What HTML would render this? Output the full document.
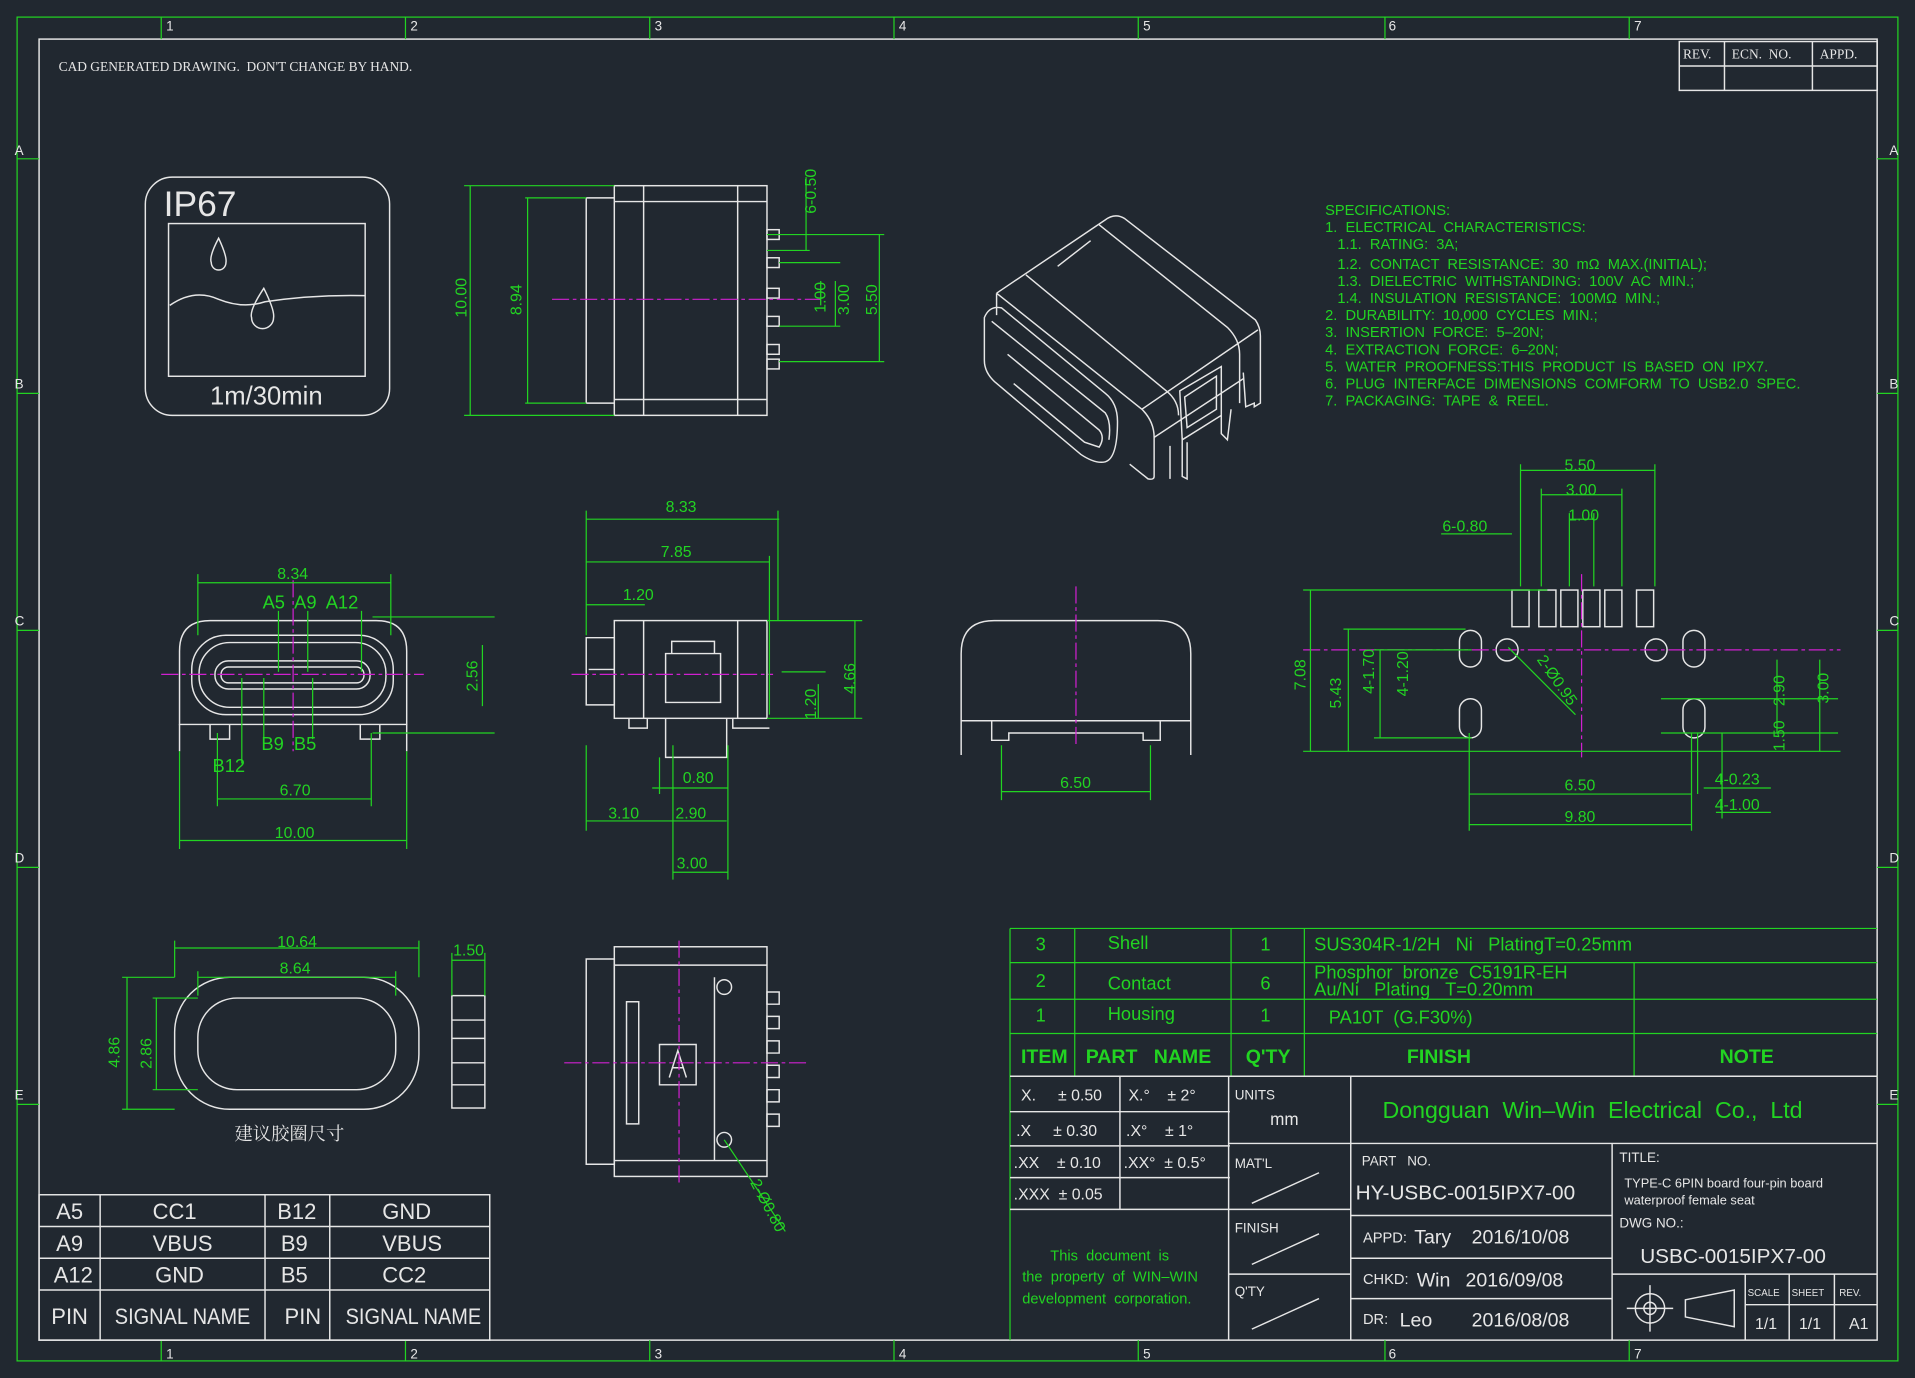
<!DOCTYPE html>
<html><head><meta charset="utf-8"><style>
html,body{margin:0;padding:0;background:#212830;}
svg{display:block}
text{font-family:"Liberation Sans","Noto Sans CJK SC",sans-serif;white-space:pre}
.w{stroke:#e6e6e6;fill:none;stroke-width:1.2}
.g{stroke:#22d422;fill:none;stroke-width:1}
.m{stroke:#d020d0;fill:none;stroke-width:1;stroke-dasharray:14 3 3 3}
.gt{fill:#22d422}
.wt{fill:#e6e6e6}
.st{fill:#22d422}
.ser{font-family:"Liberation Serif","Noto Serif CJK SC",serif}
</style></head><body>
<svg width="1915" height="1378" viewBox="0 0 1568 1128" preserveAspectRatio="none" xmlns="http://www.w3.org/2000/svg" font-size="13" xml:space="preserve">
<rect width="1568" height="1128" fill="#212830"/>
<rect x="14" y="14" width="1540" height="1100" class="g"/>
<rect x="32" y="32" width="1505" height="1065" class="w"/>
<g class="g">
<path d="M132 14v18M332 14v18M532 14v18M732 14v18M932 14v18M1134 14v18M1334 14v18M132 1097v17M332 1097v17M532 1097v17M732 1097v17M932 1097v17M1134 1097v17M1334 1097v17"/>
<path d="M14 130h18M14 322h18M14 516h18M14 710h18M14 904h18M1537 130h17M1537 322h17M1537 516h17M1537 710h17M1537 904h17"/>
</g>
<g class="wt" font-size="11">
<text x="136" y="25">1</text><text x="336" y="25">2</text><text x="536" y="25">3</text><text x="736" y="25">4</text><text x="936" y="25">5</text><text x="1137" y="25">6</text><text x="1338" y="25">7</text>
<text x="136" y="1112">1</text><text x="336" y="1112">2</text><text x="536" y="1112">3</text><text x="736" y="1112">4</text><text x="936" y="1112">5</text><text x="1137" y="1112">6</text><text x="1338" y="1112">7</text>
<text x="12" y="127">A</text><text x="12" y="318">B</text><text x="12" y="512">C</text><text x="12" y="706">D</text><text x="12" y="900">E</text>
<text x="1547" y="127">A</text><text x="1547" y="318">B</text><text x="1547" y="512">C</text><text x="1547" y="706">D</text><text x="1547" y="900">E</text>
</g>
<text x="48" y="58" class="wt ser" font-size="11">CAD GENERATED DRAWING.  DON'T CHANGE BY HAND.</text>
<rect x="1375" y="34" width="162" height="40" class="w"/>
<path class="w" d="M1375 54h162M1412 34v40M1484 34v40"/>
<text x="1378" y="48" class="wt ser" font-size="11">REV.</text><text x="1418" y="48" class="wt ser" font-size="11">ECN.  NO.</text><text x="1490" y="48" class="wt ser" font-size="11">APPD.</text>

<rect x="119" y="145" width="200" height="195" rx="22" class="w" stroke-width="1.5"/>
<rect x="138" y="183" width="161" height="125" class="w"/>
<text x="134" y="177" class="wt" font-size="29">IP67</text>
<text x="172" y="331" class="wt" font-size="21">1m/30min</text>
<path class="w" d="M179 195 q-8 15 -6 20 a6 6 0 0 0 12 0 q1 -5 -6 -20z"/>
<path class="w" d="M139 250 q20 -14 40 -5 q20 8 38 2 q40 -6 82 -5"/>
<path class="w" d="M216 236 q-12 18 -10 24 a9 9 0 0 0 18 0 q1 -6 -8 -24z"/>

<g class="w">
<rect x="503" y="152" width="125" height="188"/>
<path d="M527 152v188M604 152v188M480 162h23M480 330h23M480 162v168M503 165h125M503 327h125"/>
<rect x="628" y="188" width="10" height="8"/><rect x="628" y="211" width="10" height="8"/><rect x="628" y="236" width="10" height="8"/><rect x="628" y="259" width="10" height="8"/><rect x="628" y="282" width="10" height="8"/><rect x="628" y="294" width="10" height="8"/>
</g>
<path class="m" d="M452 245h220"/>
<g class="g">
<path d="M380 152h123M380 340h123M385 152v188M430 162h50M430 330h50M432 162v168M628 192h35M628 205h35M660 145v60M638 215h50M638 267h50M684 230v37M672 230v20M638 296h86M720 192v104M638 192h86"/>
</g>
<g class="gt">
<text transform="translate(382,260) rotate(-90)">10.00</text>
<text transform="translate(427,258) rotate(-90)">8.94</text>
<text transform="translate(668,175) rotate(-90)">6-0.50</text>
<text transform="translate(676,256) rotate(-90)">1.00</text>
<text transform="translate(695,258) rotate(-90)">3.00</text>
<text transform="translate(718,258) rotate(-90)">5.50</text>
</g>

<g class="w" stroke-width="1.1">
<path d="M816 240 L905 180 Q913 174 921 179 L1028 262 Q1032 268 1032 275 V330 L1027 333 V330 L1020 333 L1018 305"/>
<path d="M816 240 V258 M816 240 L935 335 Q945 345 945 358 V390 Q945 393 940 392 L925 380"/>
<path d="M840 225 L955 320 Q965 328 965 340 M900 184 L1005 268 Q1015 278 1015 290 V330"/>
<path d="M935 335 L1030 270 M945 358 L1018 310 M866 218 L893 197"/>
<path d="M806 260 Q810 250 820 252 L905 322 Q915 330 915 345 Q915 375 905 378 Q897 380 885 372 L815 313 Q806 305 806 295 Z"/>
<path d="M812 263 L905 338 Q910 345 908 360 M825 290 L900 352 Q905 358 900 366 L888 362 L830 314"/>
<path d="M966 320 L1000 300 V340 L968 360 Z M970 325 L996 308 V335 L972 350 Z M1000 340 V355 L1005 360 L1008 335 M958 365 V392 M968 358 V390 L972 392 V362"/>
</g>

<g class="st" font-size="12">
<text x="1085" y="176">SPECIFICATIONS:</text>
<text x="1085" y="190">1.  ELECTRICAL  CHARACTERISTICS:</text>
<text x="1095" y="204">1.1.  RATING:  3A;</text>
<text x="1095" y="220">1.2.  CONTACT  RESISTANCE:  30  mΩ  MAX.(INITIAL);</text>
<text x="1095" y="234">1.3.  DIELECTRIC  WITHSTANDING:  100V  AC  MIN.;</text>
<text x="1095" y="248">1.4.  INSULATION  RESISTANCE:  100MΩ  MIN.;</text>
<text x="1085" y="262">2.  DURABILITY:  10,000  CYCLES  MIN.;</text>
<text x="1085" y="276">3.  INSERTION  FORCE:  5–20N;</text>
<text x="1085" y="290">4.  EXTRACTION  FORCE:  6–20N;</text>
<text x="1085" y="304">5.  WATER  PROOFNESS:THIS  PRODUCT  IS  BASED  ON  IPX7.</text>
<text x="1085" y="318">6.  PLUG  INTERFACE  DIMENSIONS  COMFORM  TO  USB2.0  SPEC.</text>
<text x="1085" y="332">7.  PACKAGING:  TAPE  &amp;  REEL.</text>
</g>

<g class="w">
<path d="M147 593v-60q0-25 25-25h136q25 0 25 25v60z"/>
<rect x="157" y="520" width="165" height="65" rx="28"/>
<rect x="163" y="526" width="153" height="53" rx="25"/>
<rect x="176" y="541" width="127" height="23" rx="11"/>
<rect x="181" y="546" width="117" height="13" rx="6"/>
<path d="M147 593v22M333 593v22M172 593v12h16v-12M295 593v12h16v-12"/>
</g>
<path class="m" d="M132 552h215M240 475v140"/>
<g class="g">
<path d="M162 477h158M162 470v50M320 470v50M305 505h100M305 600h100M395 528v50M178 654h126M178 600v60M304 600v60M147 688h186M147 615v80M333 615v80M228 500v50M252 500v50M296 500v50M216 555v50M256 555v50M198 555v70"/>
</g>
<g class="gt">
<text x="227" y="474">8.34</text>
<text x="215" y="498" font-size="15">A5  A9  A12</text>
<text x="214" y="614" font-size="15">B9  B5</text>
<text x="174" y="632" font-size="15">B12</text>
<text x="229" y="651">6.70</text>
<text x="225" y="686">10.00</text>
<text transform="translate(391,566) rotate(-90)">2.56</text>
</g>

<g class="w">
<rect x="503" y="508" width="125" height="80"/>
<path d="M480 522h23v55h-23zM527 508v80M604 508v80M545 535h45v40h-45zM550 535v-10h35v10M515 588v8h15v-8M600 588v8h30M545 588v32h50v-32M482 548h21"/>
</g>
<path class="m" d="M468 552h165"/>
<g class="g">
<path d="M480 425h158M480 418v100M637 418v90M480 460h150M630 455v130M480 495h48M480 490v30M628 508h78M628 588h78M700 508v80M640 550h36M670 560v28M534 645h62M540 620v30M596 620v30M480 672h115M480 610v70M551 610v70M596 610v70M551 714h45M551 680v40M596 680v40"/>
</g>
<g class="gt">
<text x="545" y="419">8.33</text>
<text x="541" y="456">7.85</text>
<text x="510" y="491">1.20</text>
<text transform="translate(700,568) rotate(-90)">4.66</text>
<text transform="translate(668,589) rotate(-90)">1.20</text>
<text x="559" y="641">0.80</text>
<text x="498" y="670">3.10</text>
<text x="553" y="670">2.90</text>
<text x="554" y="711">3.00</text>
</g>

<g class="w">
<path d="M787 590v-55q0-27 27-27h134q27 0 27 27v55zM787 590v28M975 590v28M812 590v16h14v-6h110v6h14v-16"/>
</g>
<path class="m" d="M881 480v130"/>
<g class="g"><path d="M820 648h122M820 610v45M942 610v45"/></g>
<text x="868" y="645" class="gt">6.50</text>

<g class="w">
<rect x="1238" y="483" width="14" height="30"/><rect x="1260" y="483" width="14" height="30"/><rect x="1278" y="483" width="14" height="30"/><rect x="1296" y="483" width="14" height="30"/><rect x="1314" y="483" width="14" height="30"/><rect x="1340" y="483" width="14" height="30"/>
<rect x="1195" y="516" width="18" height="30" rx="9"/><rect x="1378" y="516" width="18" height="30" rx="9"/>
<rect x="1195" y="572" width="18" height="32" rx="9"/><rect x="1378" y="572" width="18" height="32" rx="9"/>
<circle cx="1234" cy="532" r="9"/><circle cx="1356" cy="532" r="9"/>
</g>
<path class="m" d="M1067 532h440M1295 470v150"/>
<g class="g">
<path d="M1245 385h110M1245 380v100M1355 380v100M1262 405h66M1262 400v80M1328 400v80M1285 425h20M1285 420v60M1305 420v60M1180 437h58M1067 483h200M1067 615h440M1073 483v132M1100 515h100M1104 515v100M1125 532h80M1130 532v72M1125 604h80M1235 530l55 55M1203 650h182M1203 600v80M1385 600v80M1203 675h182M1360 572h145M1360 600h145M1455 540v60M1490 540v75M1395 645h55M1405 665h45M1410 600v70M1390 600v50"/>
</g>
<g class="gt">
<text x="1281" y="385">5.50</text>
<text x="1282" y="405">3.00</text>
<text x="1284" y="426">1.00</text>
<text x="1181" y="435">6-0.80</text>
<text transform="translate(1069,565) rotate(-90)">7.08</text>
<text transform="translate(1098,580) rotate(-90)">5.43</text>
<text transform="translate(1125,568) rotate(-90)">4-1.70</text>
<text transform="translate(1153,570) rotate(-90)">4-1.20</text>
<text transform="translate(1258,540) rotate(55)">2-Ø0.95</text>
<text x="1281" y="647">6.50</text>
<text x="1281" y="673">9.80</text>
<text transform="translate(1461,578) rotate(-90)">2.90</text>
<text transform="translate(1497,576) rotate(-90)">3.00</text>
<text transform="translate(1461,615) rotate(-90)">1.50</text>
<text x="1404" y="642">4-0.23</text>
<text x="1404" y="663">4-1.00</text>
</g>

<g class="w">
<rect x="143" y="800" width="200" height="108" rx="45"/>
<rect x="162" y="817" width="162" height="75" rx="32"/>
<rect x="370" y="815" width="27" height="92"/>
<path d="M370 835h27M370 850h27M370 870h27M370 888h27"/>
</g>
<g class="g">
<path d="M143 776h200M143 770v30M343 770v30M162 800h162M162 795v20M324 795v20M370 786h27M370 780v35M397 780v35M100 800h43M100 908h43M104 800v108M125 817h37M125 892h37M128 817v75"/>
</g>
<g class="gt">
<text x="227" y="775">10.64</text>
<text x="229" y="797">8.64</text>
<text x="371" y="782">1.50</text>
<text transform="translate(98,874) rotate(-90)">4.86</text>
<text transform="translate(124,875) rotate(-90)">2.86</text>
</g>
<text x="192" y="933" class="wt" font-size="15" style="font-family:'Noto Serif CJK SC','Noto Sans CJK SC',serif">建议胶圈尺寸</text>

<g class="w">
<rect x="503" y="775" width="125" height="188"/>
<path d="M480 785h23v168h-23zM503 790h125M503 950h125M513 820h10v100h-10zM540 855h30v33h-30zM585 800v150M628 812h10v10h-10zM628 832h10v10h-10zM628 852h10v10h-10zM628 872h10v10h-10zM628 892h10v10h-10zM628 912h10v10h-10z"/>
<circle cx="593" cy="808" r="6"/><circle cx="593" cy="933" r="6"/>
<path d="M548 882l7 -22l7 22M550 874h10"/>
</g>
<path class="m" d="M462 870h200M556 770v200"/>
<g class="g"><path d="M593 933l50 75"/></g>
<text transform="translate(614,968) rotate(62)" class="gt">2-Ø0.80</text>

<g class="w">
<rect x="32" y="978" width="369" height="119"/>
<path d="M32 1004h369M32 1030h369M32 1056h369M82 978v119M217 978v119M270 978v119"/>
</g>
<g class="wt" font-size="18">
<text x="46" y="998">A5</text><text x="125" y="998">CC1</text><text x="227" y="998">B12</text><text x="313" y="998">GND</text>
<text x="46" y="1024">A9</text><text x="125" y="1024">VBUS</text><text x="230" y="1024">B9</text><text x="313" y="1024">VBUS</text>
<text x="44" y="1050">A12</text><text x="127" y="1050">GND</text><text x="230" y="1050">B5</text><text x="313" y="1050">CC2</text>
<text x="42" y="1084">PIN</text><text x="94" y="1084" textLength="111" lengthAdjust="spacingAndGlyphs">SIGNAL NAME</text><text x="233" y="1084">PIN</text><text x="283" y="1084" textLength="111" lengthAdjust="spacingAndGlyphs">SIGNAL NAME</text>
</g>

<g class="g">
<path d="M827 760h710M827 788h710M827 818h710M827 846h710M827 881h710M827 760v337M880 760v121M1008 760v121M1068 760v121M1338 788v93"/>
</g>
<g class="gt" font-size="15">
<text x="848" y="778">3</text><text x="907" y="777">Shell</text><text x="1032" y="778">1</text><text x="1076" y="778">SUS304R-1/2H   Ni   PlatingT=0.25mm</text>
<text x="848" y="808">2</text><text x="907" y="810">Contact</text><text x="1032" y="810">6</text><text x="1076" y="801">Phosphor  bronze  C5191R-EH</text><text x="1076" y="815">Au/Ni   Plating   T=0.20mm</text>
<text x="848" y="836">1</text><text x="907" y="835">Housing</text><text x="1032" y="836">1</text><text x="1088" y="838">PA10T  (G.F30%)</text>
</g>
<g class="gt ser" font-weight="bold" font-size="16">
<text x="836" y="870">ITEM</text><text x="889" y="870">PART   NAME</text><text x="1020" y="870">Q'TY</text><text x="1152" y="870">FINISH</text><text x="1408" y="870">NOTE</text>
</g>

<g class="w">
<path d="M827 881h710M827 910h180M827 938h180M827 964h180M827 990h180M917 881v109M1006 881v216M1006 936h100M1006 990h100M1006 1043h100M1106 881v216M1106 936h431M1320 936v161M1106 995h214M1106 1030h214M1106 1063h214M1320 1043h217M1429 1043v54M1465 1043v54M1502 1043v54M1429 1068h108"/>
<path d="M1025 985l55-25M1025 1035l55-25M1025 1088l55-25"/>
<circle cx="1351" cy="1071" r="12"/><circle cx="1351" cy="1071" r="5"/><path d="M1332 1071h38M1351 1052v38M1380 1064l40-8v30l-40-8z"/>
</g>
<g class="wt ser" font-size="13">
<text x="836" y="901">X.     ± 0.50</text><text x="924" y="901">X.°    ± 2°</text>
<text x="832" y="930">.X     ± 0.30</text><text x="922" y="930">.X°    ± 1°</text>
<text x="830" y="956">.XX    ± 0.10</text><text x="920" y="956">.XX°  ± 0.5°</text>
<text x="830" y="982">.XXX  ± 0.05</text>
<text x="1011" y="900" font-size="11">UNITS</text><text x="1040" y="921" font-size="14">mm</text>
<text x="1011" y="956" font-size="11">MAT'L</text>
<text x="1011" y="1009" font-size="11">FINISH</text>
<text x="1011" y="1061" font-size="11">Q'TY</text>
<text x="1115" y="954" font-size="11">PART   NO.</text>
<text x="1326" y="951" font-size="11">TITLE:</text>
<text x="1330" y="972" font-size="10.5">TYPE-C 6PIN board four-pin board</text>
<text x="1330" y="986" font-size="10.5">waterproof female seat</text>
<text x="1326" y="1005" font-size="11">DWG NO.:</text>
<text x="1431" y="1061" font-size="8">SCALE</text><text x="1467" y="1061" font-size="8">SHEET</text><text x="1506" y="1061" font-size="8">REV.</text>
<text x="1437" y="1088">1/1</text><text x="1473" y="1088">1/1</text><text x="1514" y="1088">A1</text>
<text x="1116" y="1017" font-size="12">APPD:</text><text x="1116" y="1051" font-size="12">CHKD:</text><text x="1116" y="1084" font-size="12">DR:</text>
</g>
<g class="wt" font-size="16">
<text x="1110" y="982" font-size="17">HY-USBC-0015IPX7-00</text>
<text x="1343" y="1034" font-size="17">USBC-0015IPX7-00</text>
<text x="1158" y="1018">Tary</text><text x="1205" y="1018">2016/10/08</text>
<text x="1160" y="1053">Win</text><text x="1200" y="1053">2016/09/08</text>
<text x="1146" y="1086">Leo</text><text x="1205" y="1086">2016/08/08</text>
</g>
<text x="1132" y="915" class="gt" font-size="19">Dongguan  Win–Win  Electrical  Co.,  Ltd</text>
<g class="gt" font-size="12">
<text x="860" y="1032">This  document  is</text>
<text x="837" y="1049">the  property  of  WIN–WIN</text>
<text x="837" y="1067">development  corporation.</text>
</g>
</svg>
</body></html>
